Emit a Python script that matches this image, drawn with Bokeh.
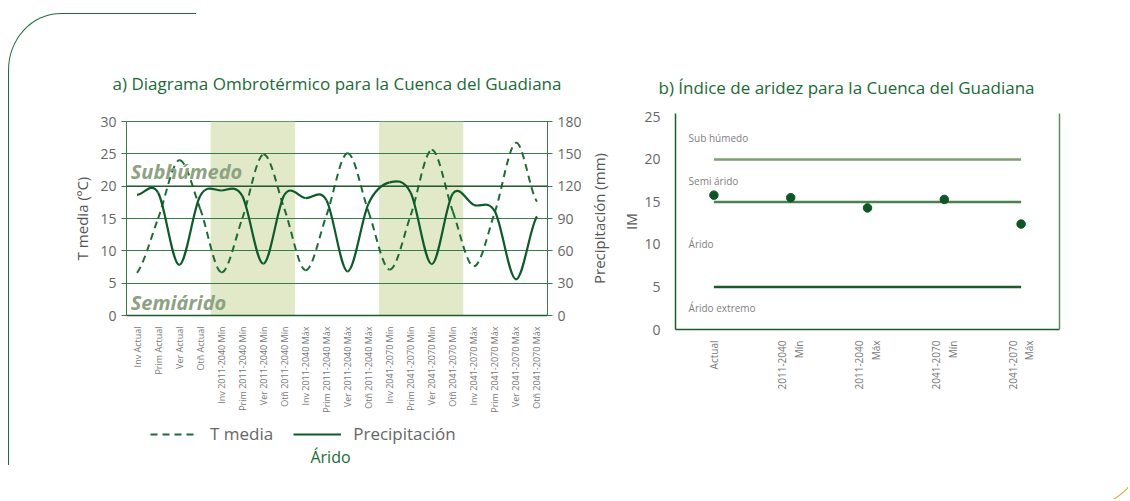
import numpy as np
from bokeh.plotting import figure
from bokeh.models import (Range1d, FactorRange, LinearAxis, FixedTicker, Label, BoxAnnotation,
                          Legend, LegendItem, Span, ColumnDataSource)
from bokeh.layouts import row, column
from bokeh.embed import file_html
from bokeh.resources import INLINE
from bokeh.core.properties import value

# ---------------- data: chart a ----------------
seasons = ["Inv", "Prim", "Ver", "Otñ"]
periods = ["Actual", "2011-2040 Mín", "2011-2040 Máx", "2041-2070 Mín", "2041-2070 Máx"]
categories_a = [f"{s} {p}" for p in periods for s in seasons]
t_media = [6.6, 15.0, 24.0, 16.5, 6.7, 15.0, 24.9, 16.5, 7.0, 15.5,
           25.1, 16.0, 7.1, 15.5, 25.6, 16.1, 7.6, 16.0, 26.7, 17.6]
precip = [112, 114, 47, 111, 116, 111, 48, 112, 109, 107,
          41, 104, 123.5, 114, 47.7, 113, 102.6, 96.6, 33.6, 92]
shaded_periods = ["2011-2040 Mín", "2041-2070 Mín"]
t_ticks = [0, 5, 10, 15, 20, 25, 30]
p_ticks = [0, 30, 60, 90, 120, 150, 180]
legend_labels = ["T media", "Precipitación"]

# ---------------- data: chart b ----------------
categories_b = ["Actual", "2011-2040\nMín", "2011-2040\nMáx", "2041-2070\nMín", "2041-2070\nMáx"]
aridity = [15.8, 15.5, 14.3, 15.3, 12.4]
thresholds = [5, 15, 20]
zone_bounds = [0, 5, 15, 20, 25]
zone_names = ["Árido extremo", "Árido", "Semi árido", "Sub húmedo"]
im_ticks = [0, 5, 10, 15, 20, 25]

FONT = "Open Sans"
GREEN_TITLE = "#1b6a36"
GRID = "#3b7b4b"
GREY = "#666666"
T_COLOR = "#1e6b38"
P_COLOR = "#0e5a2a"

# chart-a geometry (pixels)
A_TOP, A_FRAME_H, A_BOTTOM = 121, 198, 96
A_LEFT, A_FRAME_W, A_RIGHT = 126, 421, 41
LAB_W = 28


def bezier_segments(vals):
    """Smooth (Catmull-Rom style) Bezier segments between consecutive data points."""
    n = len(vals)
    xs = [i + 0.5 for i in range(n)]
    ext = [vals[0]] + list(vals) + [vals[-1]]
    seg = dict(x0=[], y0=[], x1=[], y1=[], cx0=[], cy0=[], cx1=[], cy1=[])
    for i in range(n - 1):
        pp, p0, p1, pn = ext[i], ext[i + 1], ext[i + 2], ext[i + 3]
        seg["x0"].append(xs[i]); seg["y0"].append(p0)
        seg["x1"].append(xs[i + 1]); seg["y1"].append(p1)
        seg["cx0"].append(xs[i] + 1 / 3); seg["cy0"].append(p0 + (p1 - pp) / 6)
        seg["cx1"].append(xs[i + 1] - 1 / 3); seg["cy1"].append(p1 - (pn - p0) / 6)
    return ColumnDataSource(seg)


def style_title(t, size="17px", align="center"):
    t.align = align
    t.text_font = FONT
    t.text_font_size = size
    t.text_font_style = "normal"
    t.text_color = GREEN_TITLE


# ================= chart a =================
pa = figure(width=A_LEFT + A_FRAME_W + A_RIGHT, height=A_TOP + A_FRAME_H + A_BOTTOM,
            x_range=FactorRange(factors=categories_a, range_padding=0),
            y_range=Range1d(0, 30), output_backend="svg", toolbar_location=None,
            title="a) Diagrama Ombrotérmico para la Cuenca del Guadiana",
            min_border_left=A_LEFT, min_border_right=A_RIGHT, min_border_top=A_TOP,
            min_border_bottom=A_BOTTOM)
style_title(pa.title)
pa.title.standoff = 54
pa.outline_line_color = GRID
pa.xgrid.grid_line_color = None
pa.ygrid.grid_line_color = GRID
pa.ygrid.grid_line_width = 1.2

for sp in shaded_periods:
    i0 = periods.index(sp) * len(seasons)
    pa.add_layout(BoxAnnotation(left=i0, right=i0 + len(seasons), fill_color="#e1e9c8",
                                fill_alpha=1, line_color=None, level="image"))
pa.add_layout(Span(location=20, dimension="width", line_color="#1c4d2a", line_width=1.3))

pa.extra_y_ranges = {"prec": Range1d(0, 180)}

# curves
pa.bezier(x0="x0", y0="y0", x1="x1", y1="y1", cx0="cx0", cy0="cy0", cx1="cx1", cy1="cy1",
          source=bezier_segments(t_media), line_color=T_COLOR, line_width=2, line_dash="7 5")
pa.bezier(x0="x0", y0="y0", x1="x1", y1="y1", cx0="cx0", cy0="cy0", cx1="cx1", cy1="cy1",
          source=bezier_segments(precip), y_range_name="prec", line_color=P_COLOR, line_width=2.2)

# axes
ax = pa.xaxis[0]
ax.major_label_orientation = np.pi / 2
ax.major_label_text_font_size = "9px"
ax.major_label_text_font = FONT
ax.major_label_text_color = "#777777"
ax.axis_line_color = "#1d5a2e"
ax.axis_line_width = 1.5
ax.major_tick_line_color = None
ax.minor_tick_line_color = None

ay = pa.yaxis[0]
ay.ticker = FixedTicker(ticks=t_ticks)
ay.major_tick_out = 5
ay.major_tick_in = 0
ay.minor_tick_line_color = None
ay.major_tick_line_color = GRID
ay.axis_line_color = GRID
ay.major_label_text_font_size = "14px"
ay.major_label_text_font = FONT
ay.major_label_text_color = GREY
ay.axis_label = "T media (ºC)"
ay.axis_label_text_font = FONT
ay.axis_label_text_font_size = "15px"
ay.axis_label_text_font_style = "normal"
ay.axis_label_text_color = "#555555"

ry = LinearAxis(y_range_name="prec", ticker=FixedTicker(ticks=p_ticks))
ry.major_tick_out = 5
ry.major_tick_in = 0
ry.minor_tick_line_color = None
ry.major_tick_line_color = GRID
ry.axis_line_color = GRID
ry.major_label_text_font_size = "14px"
ry.major_label_text_font = FONT
ry.major_label_text_color = GREY
pa.add_layout(ry, "right")

# zone names inside chart a
pa.add_layout(Label(x=0.2, y=22.2, text="Subhúmedo", text_align="left", text_baseline="middle",
                    text_font=FONT, text_font_size="20px", text_font_style="bold italic",
                    text_color="#8da283"))
pa.add_layout(Label(x=0.2, y=2.0, text="Semiárido", text_align="left", text_baseline="middle",
                    text_font=FONT, text_font_size="20px", text_font_style="bold italic",
                    text_color="#8da283"))

# ---------- narrow strip holding the right axis title, read bottom-to-top ----------
plab = figure(width=LAB_W, height=A_TOP + A_FRAME_H + A_BOTTOM, x_range=Range1d(0, LAB_W),
              y_range=Range1d(0, A_FRAME_H), output_backend="svg", toolbar_location=None,
              x_axis_type=None, y_axis_type=None, min_border_left=0, min_border_right=0,
              min_border_top=A_TOP, min_border_bottom=A_BOTTOM)
plab.outline_line_color = None
plab.grid.grid_line_color = None
plab.add_layout(Label(x=10, y=A_FRAME_H / 2, angle=np.pi / 2, text="Precipitación (mm)",
                      text_align="center", text_baseline="middle", text_font=FONT,
                      text_font_size="15px", text_color="#555555"))

# ---------- legend strip under chart a (same horizontal frame as chart a) ----------
LEG_H = 499 - (A_TOP + A_FRAME_H + A_BOTTOM)
pleg = figure(width=A_LEFT + A_FRAME_W + A_RIGHT + LAB_W, height=LEG_H,
              x_range=Range1d(0, A_FRAME_W), y_range=Range1d(0, LEG_H),
              output_backend="svg", toolbar_location=None, x_axis_type=None, y_axis_type=None,
              min_border_left=A_LEFT, min_border_right=A_RIGHT + LAB_W, min_border_top=0,
              min_border_bottom=0)
pleg.outline_line_color = None
pleg.grid.grid_line_color = None
# legend sample renderers (kept outside the visible strip; only their legend glyphs show)
la = pleg.line(x=[-20, -10], y=[-20, -20], line_color=T_COLOR, line_width=2, line_dash="7 5")
lb = pleg.line(x=[-20, -10], y=[-20, -20], line_color=P_COLOR, line_width=2.2)
legend = Legend(items=[LegendItem(label=legend_labels[0], renderers=[la]),
                       LegendItem(label=legend_labels[1], renderers=[lb])],
                orientation="horizontal", location=(24, 54), glyph_width=48, glyph_height=20,
                label_standoff=12, spacing=20, padding=6, margin=0, border_line_color=None,
                background_fill_alpha=0, label_text_font_size="17px", label_text_color=GREY,
                label_text_font=FONT)
pleg.add_layout(legend)
pleg.add_layout(Label(x=204, y=43, text="Árido", text_align="center", text_baseline="middle",
                      text_font=FONT, text_font_size="16px", text_color=GREEN_TITLE))

# ================= chart b =================
pb = figure(width=512, height=499, x_range=FactorRange(factors=categories_b, range_padding=0),
            y_range=Range1d(0, 25.4), output_backend="svg", toolbar_location=None,
            title="b) Índice de aridez para la Cuenca del Guadiana",
            min_border_left=59, min_border_right=69, min_border_top=113, min_border_bottom=170)
style_title(pb.title, align="left")
pb.title.standoff = 30
pb.title.offset = -17
pb.outline_line_color = None
pb.grid.grid_line_color = None

line_colors = ["#1a5a2b", "#4e7f50", "#819d72"]
pb.segment(x0=[categories_b[0]] * len(thresholds), x1=[categories_b[-1]] * len(thresholds),
           y0=thresholds, y1=thresholds, line_color=line_colors, line_width=2.5)
pb.scatter(x=categories_b, y=aridity, size=8.5, color="#0f5528")

mids = [(a + b) / 2 for a, b in zip(zone_bounds[:-1], zone_bounds[1:])]
pb.text(x=[0.17] * len(zone_names), y=mids, text=zone_names, text_align="left",
        text_baseline="middle", text_font=value(FONT), text_font_size="10px", text_color="#808080")

bx = pb.xaxis[0]
bx.major_label_orientation = np.pi / 2
bx.major_label_text_font_size = "10px"
bx.major_label_text_font = FONT
bx.major_label_text_color = "#777777"
bx.axis_line_color = "#1d5a2e"
bx.axis_line_width = 1.5
bx.major_tick_line_color = None
bx.minor_tick_line_color = None

by = pb.yaxis[0]
by.ticker = FixedTicker(ticks=im_ticks)
by.major_tick_line_color = None
by.minor_tick_line_color = None
by.major_label_standoff = 9
by.axis_line_color = "#1d5a2e"
by.axis_line_width = 1.5
by.major_label_text_font_size = "14px"
by.major_label_text_font = FONT
by.major_label_text_color = GREY
by.axis_label = "IM"
by.axis_label_standoff = 0
by.axis_label_text_font = FONT
by.axis_label_text_font_size = "14px"
by.axis_label_text_font_style = "normal"
by.axis_label_text_color = "#555555"

rb = LinearAxis(ticker=FixedTicker(ticks=[]), axis_line_color="#5b8d62", axis_line_width=1.5,
                major_tick_line_color=None, minor_tick_line_color=None)
pb.add_layout(rb, "right")

# decorative page frame: green rounded corner top-left, orange corner bottom-right
deco_css = """
:host { position: relative; overflow: hidden; }
:host::before {
  content: ""; position: absolute; left: 8.25px; top: 12.75px; width: 188px; height: 452px;
  border-left: 1.5px solid #1f6b3a; border-top: 1.5px solid #1f6b3a;
  border-top-left-radius: 53px 57px; pointer-events: none; z-index: 10; box-sizing: border-box;
}
:host::after {
  content: ""; position: absolute; left: 1000px; top: 400px; width: 148px; height: 108px;
  border-right: 1.5px solid #f0a23a; border-bottom: 1.5px solid #f0a23a;
  border-bottom-right-radius: 65px 70px; pointer-events: none; z-index: 10; box-sizing: border-box;
}
"""

left_block = column(row(pa, plab), column(pleg))
layout = row(left_block, column(pb), stylesheets=[deco_css])
open("out.html", "w").write(file_html(layout, INLINE))
